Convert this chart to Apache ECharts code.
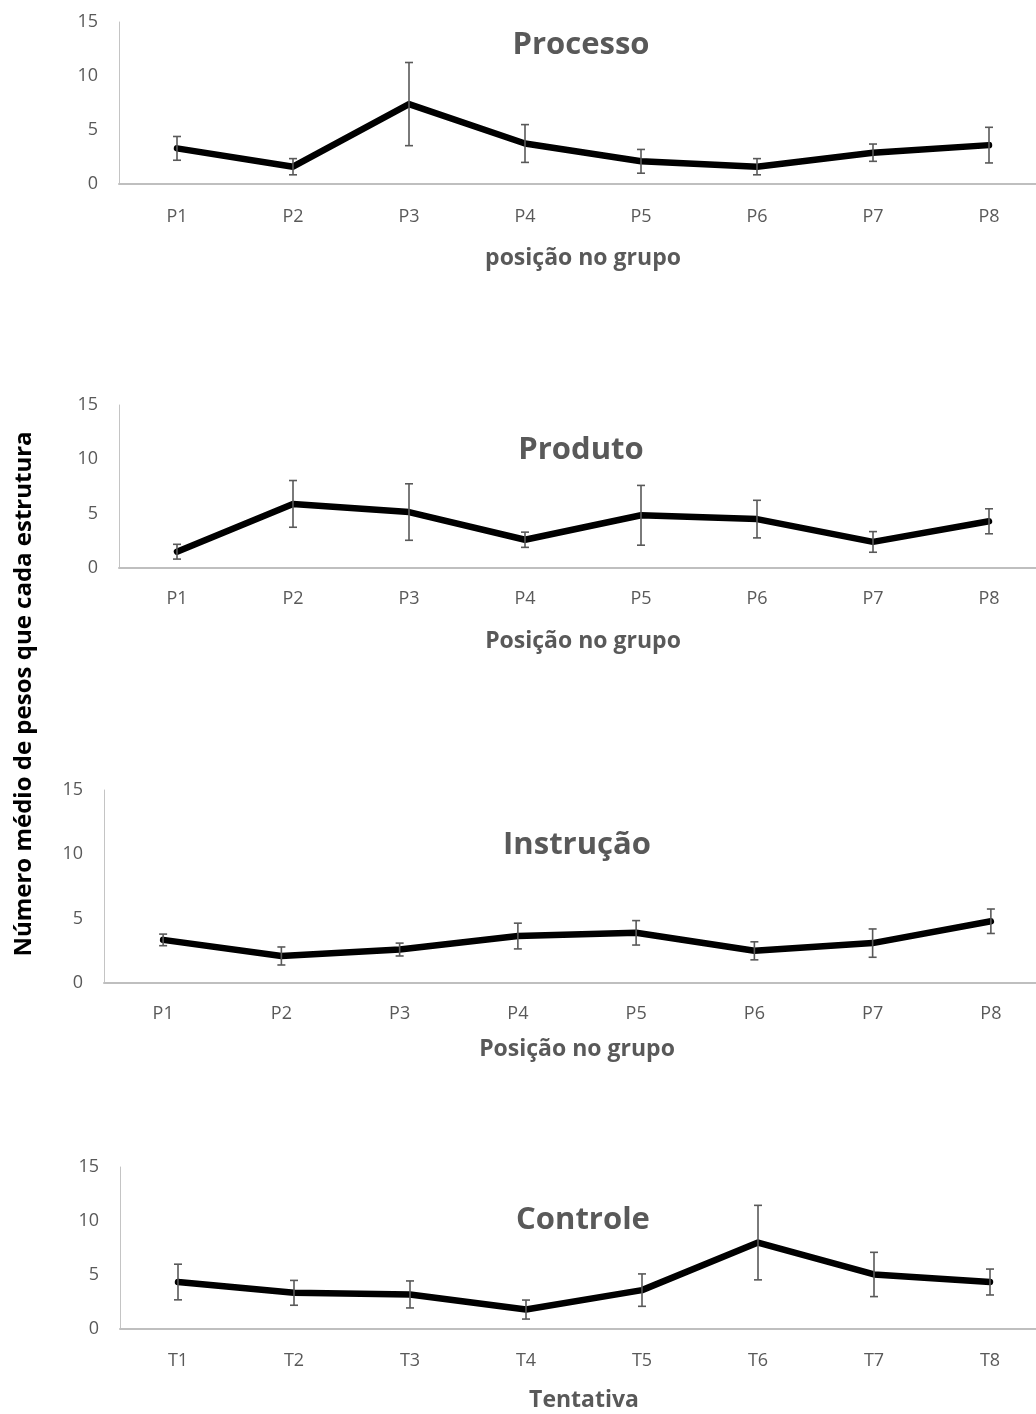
<!DOCTYPE html>
<html>
<head>
<meta charset="utf-8">
<script src="https://cdn.jsdelivr.net/npm/echarts@6/dist/echarts.min.js"></script>
<style>
  html, body { margin: 0; padding: 0; background: #ffffff; }
  #chart { width: 1036px; height: 1414px; }
</style>
</head>
<body>
<div id="chart"></div>
<script>
// Categories
const posicoes = ['P1', 'P2', 'P3', 'P4', 'P5', 'P6', 'P7', 'P8'];
const tentativas = ['T1', 'T2', 'T3', 'T4', 'T5', 'T6', 'T7', 'T8'];
const yTicks = [0, 5, 10, 15];

// Means and error half-widths per group
const processoMean = [3.3, 1.6, 7.4, 3.75, 2.1, 1.6, 2.9, 3.6];
const processoErr  = [1.1, 0.75, 3.85, 1.75, 1.1, 0.75, 0.8, 1.65];

const produtoMean = [1.5, 5.9, 5.15, 2.6, 4.85, 4.5, 2.4, 4.3];
const produtoErr  = [0.68, 2.15, 2.6, 0.7, 2.75, 1.73, 0.95, 1.15];

const instrucaoMean = [3.35, 2.1, 2.6, 3.65, 3.9, 2.5, 3.1, 4.8];
const instrucaoErr  = [0.45, 0.7, 0.5, 1.0, 0.95, 0.7, 1.1, 0.95];

const controleMean = [4.35, 3.35, 3.2, 1.8, 3.6, 8.0, 5.05, 4.35];
const controleErr  = [1.65, 1.15, 1.25, 0.88, 1.5, 3.45, 2.05, 1.2];

const panelTitles = ['Processo', 'Produto', 'Instrução', 'Controle'];
const xTitles = ['posição no grupo', 'Posição no grupo', 'Posição no grupo', 'Tentativa'];
const yTitle = 'Número médio de pesos que cada estrutura';

const panels = [
  { cats: posicoes,   mean: processoMean,  err: processoErr,
    grid: { left: 119, top: 22,  width: 928, height: 162 }, labelMargin: 24, nameGap: 63, titlePos: [581, 45] },
  { cats: posicoes,   mean: produtoMean,   err: produtoErr,
    grid: { left: 119, top: 405, width: 928, height: 163 }, labelMargin: 22, nameGap: 62, titlePos: [581, 450] },
  { cats: posicoes,   mean: instrucaoMean, err: instrucaoErr,
    grid: { left: 104, top: 790, width: 946, height: 193 }, labelMargin: 22, nameGap: 55, titlePos: [577, 845] },
  { cats: tentativas, mean: controleMean,  err: controleErr,
    grid: { left: 120, top: 1167, width: 928, height: 162 }, labelMargin: 23, nameGap: 60, titlePos: [583, 1220] }
];

const FONT = '"Open Sans", "Noto Sans", sans-serif';
const GREY = '#595959';

const grids = [], xAxes = [], yAxes = [], series = [], graphics = [];

panels.forEach((p, i) => {
  grids.push(Object.assign({ containLabel: false, outerBoundsMode: 'none' }, p.grid));

  xAxes.push({
    type: 'category',
    gridIndex: i,
    data: p.cats,
    boundaryGap: true,
    axisLine: { show: true, lineStyle: { color: '#bfbfbf', width: 2 } },
    axisTick: { show: false },
    axisLabel: { color: GREY, fontFamily: FONT, fontSize: 18, margin: p.labelMargin },
    name: xTitles[i],
    nameLocation: 'middle',
    nameGap: p.nameGap,
    nameTextStyle: { color: GREY, fontFamily: FONT, fontSize: 23, fontWeight: 'bold', verticalAlign: 'top' },
    splitLine: { show: false }
  });

  yAxes.push({
    type: 'value',
    gridIndex: i,
    min: yTicks[0],
    max: yTicks[yTicks.length - 1],
    interval: yTicks[1] - yTicks[0],
    axisLine: { show: true, lineStyle: { color: '#c4c4c4', width: 1 } },
    axisTick: { show: false },
    axisLabel: { color: GREY, fontFamily: FONT, fontSize: 18, margin: 21 },
    splitLine: { show: false }
  });

  // Mean line
  series.push({
    type: 'line',
    xAxisIndex: i,
    yAxisIndex: i,
    data: p.mean,
    showSymbol: false,
    symbol: 'none',
    lineStyle: { color: '#000000', width: 6.5, cap: 'round', join: 'round' },
    silent: true,
    animation: false,
    z: 3
  });

  // Error bars (mean ± err)
  series.push({
    type: 'custom',
    xAxisIndex: i,
    yAxisIndex: i,
    data: p.mean.map((m, k) => [k, m - p.err[k], m + p.err[k]]),
    renderItem: function (params, api) {
      const lo = api.coord([api.value(0), api.value(1)]);
      const hi = api.coord([api.value(0), api.value(2)]);
      const cap = 4;
      const style = { stroke: GREY, lineWidth: 1.6, fill: null };
      return {
        type: 'group',
        children: [
          { type: 'line', shape: { x1: lo[0], y1: lo[1], x2: hi[0], y2: hi[1] }, style: style },
          { type: 'line', shape: { x1: hi[0] - cap, y1: hi[1], x2: hi[0] + cap, y2: hi[1] }, style: style },
          { type: 'line', shape: { x1: lo[0] - cap, y1: lo[1], x2: lo[0] + cap, y2: lo[1] }, style: style }
        ]
      };
    },
    silent: true,
    animation: false,
    z: 4
  });

  graphics.push({
    type: 'text',
    x: p.titlePos[0],
    y: p.titlePos[1],
    style: {
      text: panelTitles[i],
      fill: GREY,
      font: 'bold 31px ' + FONT,
      textAlign: 'center',
      textVerticalAlign: 'middle'
    }
  });
});

// Shared vertical axis title
graphics.push({
  type: 'text',
  x: 24,
  y: 694,
  rotation: Math.PI / 2,
  style: {
    text: yTitle,
    fill: '#000000',
    font: 'bold 24px ' + FONT,
    textAlign: 'center',
    textVerticalAlign: 'middle'
  }
});

const chart = echarts.init(document.getElementById('chart'), null, { renderer: 'canvas' });
chart.setOption({
  backgroundColor: '#ffffff',
  animation: false,
  grid: grids,
  xAxis: xAxes,
  yAxis: yAxes,
  series: series,
  graphic: graphics
});
</script>
</body>
</html>
